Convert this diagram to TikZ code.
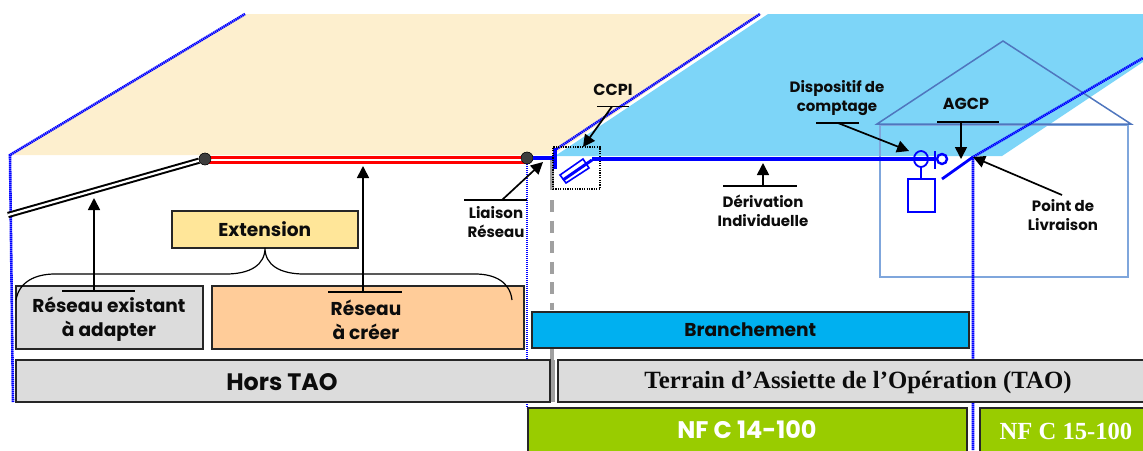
\documentclass[tikz,border=0pt]{standalone}
\usepackage{fontspec}
\setmainfont{Poppins}
\newfontfamily\serifb{Liberation Serif}
\usetikzlibrary{arrows.meta,calc,shapes.geometric}
\definecolor{beige}{HTML}{FDEFCE}
\definecolor{sky}{HTML}{7DD5F8}
\definecolor{wire}{HTML}{0000FF}
\definecolor{boxgrey}{HTML}{DCDCDC}
\definecolor{boxyel}{HTML}{FFE699}
\definecolor{boxorg}{HTML}{FFCC99}
\definecolor{boxcyan}{HTML}{00B0F0}
\definecolor{boxgreen}{HTML}{99CC00}
\definecolor{housecol}{HTML}{4F76BE}
\definecolor{houselight}{HTML}{7FA6DC}
\definecolor{ink}{HTML}{0C0C0C}
\definecolor{edge}{HTML}{262626}
\definecolor{limit}{HTML}{A0A0A0}
\tikzset{
  x=1pt,y=-1pt,
  box/.style={draw=edge,line width=1.6pt,inner sep=0pt,text=ink,anchor=north west,font=\fontsize{18.6}{24}\selectfont\bfseries,align=center},
  boxtext/.style={text=ink,inner sep=0pt,align=center,font=\fontsize{18.6}{24}\selectfont\bfseries},
  lab/.style={text=ink,inner sep=0pt,align=center,font=\fontsize{15}{19}\selectfont\bfseries},
  ptr/.style={draw=black,line width=1.7pt,-{Triangle[length=12pt,width=12pt]}},
  bar/.style={draw=black,line width=1.1pt},
  frontier/.style={draw=wire,line width=2.6pt,dash pattern=on 1.4pt off 0.6pt},
  cable/.style={draw=wire,line width=4.6pt},
  thin wire/.style={draw=wire,line width=1.6pt},
  splice/.style={circle,draw=black,fill=ink!80,minimum size=12pt,inner sep=0pt},
}
\begin{document}
\begin{tikzpicture}
\useasboundingbox (0,0) rectangle (1143,450);
% coloured ground
\fill[beige] (10,155) -- (245,14) -- (762,14) -- (553,155) -- cycle;
\fill[sky] (555,156) -- (768,14) -- (1143,14) -- (1143,62) -- (1002,156) -- cycle;
% house
\draw[houselight,line width=1.1pt] (880,125) rectangle (1128,277);
\draw[housecol,line width=1.5pt] (877,124) -- (1003,41) -- (1131,124) -- cycle;
% frontier lines
\draw[frontier] (13,402) -- (10,155) -- (245,14);
\draw[frontier] (527,158) -- (527,408);
\draw[frontier] (555,150) -- (760,14);
\draw[frontier] (973,450) -- (973,157) -- (1143,58);
% grey limit
\draw[limit,line width=3.4pt] (552,158) -- (552,190);
\draw[limit,line width=3.4pt,dash pattern=on 12pt off 8.5pt] (552,200) -- (552,310);
\draw[limit,line width=3.4pt] (552,348) -- (552,360);
\draw[limit,line width=3.4pt] (553,360) -- (553,402);
% networks
\coordinate (lefte) at (8,215);
\node[splice] (s1) at (205,159) {};
\node[splice] (s2) at (527,158) {};
\coordinate (s1r) at (205,160);
\coordinate (s2l) at (527,160);
\draw[draw=black,line width=2pt,double=white,double distance=2.2pt] (lefte) -- (s1);
\draw[draw=red,line width=2.5pt,double=white,double distance=2.4pt] (s1r) -- (s2l);
\node[splice] at (205,159) {};
\node[splice] at (527,158) {};
\coordinate (poteau) at (555,158);
\draw[cable] (s2) -- (poteau);
\draw[draw=wire,line width=3.4pt] (555,148) -- (555,169);
% CCPI
\node[draw=black,line width=1.2pt,dash pattern=on 1.2pt off 1.2pt,minimum width=47pt,minimum height=42pt,inner sep=0pt] (ccpi) at (576.5,168) {};
\draw[thin wire,fill=white] (583,159) -- (589,168) -- (566,183) -- (560,175) -- cycle;
\draw[draw=wire,line width=3pt] (563,180) -- (592,160);
% meter and derivation
\node[draw=wire,line width=1.8pt,ellipse,minimum width=14pt,minimum height=16pt,inner sep=0pt] (meter) at (921,159) {};
\draw[cable] (592,159) -- (935,159);
\draw[draw=wire,line width=2.8pt] (935,151) -- (935,169);
\node[draw=wire,line width=2.4pt,circle,minimum size=10pt,inner sep=0pt] (switch) at (942,159) {};
\node[draw=wire,line width=1.6pt,fill=white,anchor=north west,minimum width=27pt,minimum height=33pt,inner sep=0pt] (compteur) at (907,178) {};
\draw[thin wire] (meter) -- (meter |- compteur.north);
\coordinate (pdl) at (973,157);
\coordinate (agcpa) at (942,179);
\draw[draw=wire,line width=2.8pt] (agcpa) -- (pdl);
% boxes
\node[box,minimum width=186pt,minimum height=37pt,fill=boxyel] (ext) at (171,210) {Extension};
\node[box,minimum width=187pt,minimum height=63pt,fill=boxgrey] (rea) at (15,285) {};
\node[boxtext] (reat) at (109,319.5) {Réseau existant\\à adapter};
\node[box,minimum width=312pt,minimum height=63pt,fill=boxorg] (rec) at (211,285) {};
\node[boxtext] (rect) at (366,319.5) {Réseau\\à créer};
\node[box,minimum width=534pt,minimum height=42pt,fill=boxgrey] (hors) at (15,359) {};
\node[text=ink,inner sep=0pt,font=\fontsize{23.8}{24}\selectfont\bfseries] (horst) at (282,382) {Hors TAO};
\node[box,minimum width=590pt,minimum height=42pt,fill=boxgrey] (tao) at (557,359) {};
\node[text=ink,inner sep=0pt,font=\serifb\fontsize{24.8}{24}\selectfont\bfseries] (taot) at (858,383) {Terrain d’Assiette de l’Opération (TAO)};
\node[box,minimum width=437pt,minimum height=36pt,fill=boxcyan] (bra) at (531,311) {Branchement};
\node[box,minimum width=439pt,minimum height=46pt,fill=boxgreen] (nf14) at (527,407) {};
\node[text=white,inner sep=0pt,font=\fontsize{24}{24}\selectfont\bfseries] (nf14t) at (747,430) {NF C 14-100};
\node[box,minimum width=170pt,minimum height=46pt,fill=boxgreen] (nf15) at (979,407) {};
\node[text=white,inner sep=0pt,font=\serifb\fontsize{24.6}{24}\selectfont\bfseries] (nf15t) at (1066,431) {NF C 15-100};
% brace
\coordinate (bl) at (16,300);
\coordinate (br) at (512,300);
\coordinate (bt) at (265,248);
\draw[black,line width=1.2pt] (bl) .. controls (19,282) and (35,274) .. (55,274) -- (226,274) .. controls (250,274) and (265,265) .. (bt) .. controls (265,265) and (280,274) .. (304,274) -- (475,274) .. controls (495,274) and (510,282) .. (br);
% labels with overlines and pointers
\node[lab,font=\fontsize{16}{19}\selectfont\bfseries] (lccpi) at (613,90) {CCPI};
\coordinate (a1) at (597,106.5); \coordinate (a2) at (629,106.5);
\draw[bar] (a1) -- (a2);
\coordinate (am) at (612,106.5); \coordinate (at) at (583,147);
\draw[ptr] (am) -- (at);
\node[lab] (ldis) at (837,98.5) {Dispositif de\\comptage};
\coordinate (d1) at (816,123); \coordinate (d2) at (859,123);
\draw[bar] (d1) -- (d2);
\coordinate (dm) at (838,123);
\coordinate (dt) at (909,151);
\draw[ptr] (dm) -- (dt);
\node[lab,font=\fontsize{16}{19}\selectfont\bfseries] (lagcp) at (966,104) {AGCP};
\coordinate (g1) at (937,122); \coordinate (g2) at (999,122);
\draw[bar] (g1) -- (g2);
\coordinate (gm) at (961,122);
\coordinate (gt) at (961,159);
\draw[ptr] (gm) -- (gt);
\node[lab] (lpdl) at (1063,215.5) {Point de\\Livraison};
\coordinate (ps) at (1062,195);
\draw[ptr] (ps) -- (pdl);
\node[lab] (lder) at (763,210.5) {Dérivation\\Individuelle};
\coordinate (e1) at (723,186); \coordinate (e2) at (797,186);
\draw[bar] (e1) -- (e2);
\coordinate (em) at (763,186); \coordinate (et) at (763,163);
\draw[ptr] (em) -- (et);
\node[lab] (llia) at (496,222.5) {Liaison\\Réseau};
\coordinate (l1) at (464,200); \coordinate (l2) at (527,200);
\draw[bar] (l1) -- (l2);
\coordinate (lm) at (502,200); \coordinate (lt) at (543,162);
\draw[ptr] (lm) -- (lt);
\coordinate (x1) at (62,291); \coordinate (x2) at (135,291);
\draw[bar] (x1) -- (x2);
\coordinate (xm) at (94,291); \coordinate (xt) at (94,198);
\draw[ptr] (xm) -- (xt);
\coordinate (c1) at (328,292); \coordinate (c2) at (402,292);
\draw[bar] (c1) -- (c2);
\coordinate (cm) at (363,292); \coordinate (ct) at (363,166);
\draw[ptr] (cm) -- (ct);
\end{tikzpicture}
\end{document}
